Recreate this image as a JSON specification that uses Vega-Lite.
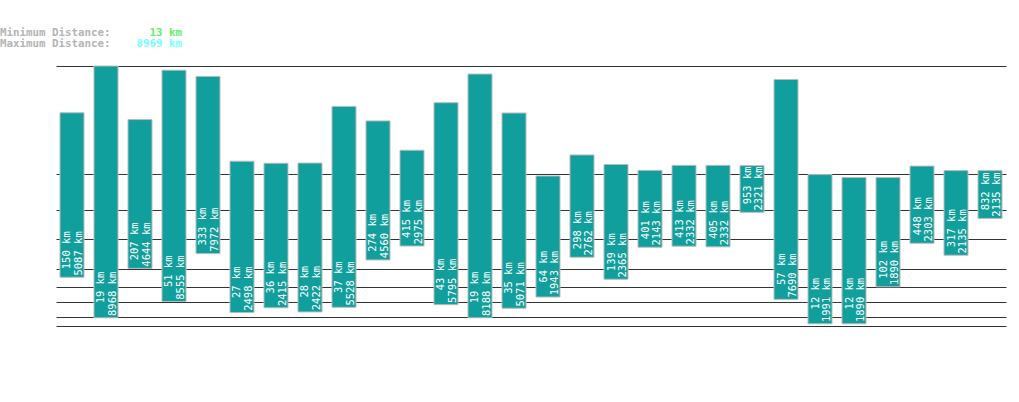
{
  "$schema": "https://vega.github.io/schema/vega-lite/v6.json",
  "width": 950,
  "height": 260,
  "autosize": {"type": "none"},
  "padding": {"left": 56, "top": 66, "right": 13, "bottom": 76},
  "background": "white",
  "config": {"view": {"stroke": null}},
  "datasets": {
    "bars": [
      {"id": 1, "min": 150, "max": 5087},
      {"id": 2, "min": 19, "max": 8968},
      {"id": 3, "min": 207, "max": 4644},
      {"id": 4, "min": 51, "max": 8555},
      {"id": 5, "min": 333, "max": 7972},
      {"id": 6, "min": 27, "max": 2498},
      {"id": 7, "min": 36, "max": 2415},
      {"id": 8, "min": 28, "max": 2422},
      {"id": 9, "min": 37, "max": 5528},
      {"id": 10, "min": 274, "max": 4560},
      {"id": 11, "min": 415, "max": 2975},
      {"id": 12, "min": 43, "max": 5795},
      {"id": 13, "min": 19, "max": 8188},
      {"id": 14, "min": 35, "max": 5071},
      {"id": 15, "min": 64, "max": 1943},
      {"id": 16, "min": 298, "max": 2762},
      {"id": 17, "min": 139, "max": 2365},
      {"id": 18, "min": 401, "max": 2143},
      {"id": 19, "min": 413, "max": 2332},
      {"id": 20, "min": 405, "max": 2332},
      {"id": 21, "min": 953, "max": 2321},
      {"id": 22, "min": 57, "max": 7690},
      {"id": 23, "min": 12, "max": 1991},
      {"id": 24, "min": 12, "max": 1890},
      {"id": 25, "min": 102, "max": 1890},
      {"id": 26, "min": 448, "max": 2303},
      {"id": 27, "min": 317, "max": 2135},
      {"id": 28, "min": 832, "max": 2135}
    ],
    "header": [
      {"row": "Minimum", "part": "label", "key": "label", "text": "Minimum Distance:"},
      {"row": "Minimum", "part": "value", "key": "min", "text": "13 km"},
      {"row": "Maximum", "part": "label", "key": "label", "text": "Maximum Distance:"},
      {"row": "Maximum", "part": "value", "key": "max", "text": "8969 km"}
    ]
  },
  "layer": [
    {
      "data": {"name": "bars"},
      "transform": [
        {"calculate": "datum.min + ' km'", "as": "minLabel"},
        {"calculate": "datum.max + ' km'", "as": "maxLabel"}
      ],
      "encoding": {
        "x": {
          "field": "id",
          "type": "ordinal",
          "axis": null,
          "scale": {"paddingInner": 0.2941, "paddingOuter": 0.1176}
        },
        "y": {
          "field": "max",
          "type": "quantitative",
          "scale": {"type": "pow", "exponent": 0.3, "domain": [10, 8969], "nice": false, "zero": false},
          "axis": {
            "values": [10, 20, 50, 100, 200, 500, 1000, 2000, 8969],
            "grid": true,
            "gridColor": "#333333",
            "gridOpacity": 1,
            "gridWidth": 1,
            "labels": false,
            "ticks": false,
            "domain": false,
            "title": null
          }
        }
      },
      "layer": [
        {
          "mark": {"type": "bar", "fill": "#119f9d", "stroke": "#bbbbbb", "strokeWidth": 1},
          "encoding": {"y2": {"field": "min"}}
        },
        {
          "mark": {
            "type": "text",
            "angle": 270,
            "align": "right",
            "baseline": "middle",
            "dx": 46,
            "dy": -4.5,
            "font": "DejaVu Sans Mono",
            "fontSize": 10.5,
            "color": "white"
          },
          "encoding": {
            "y": {"field": "min", "type": "quantitative"},
            "text": {"field": "minLabel"}
          }
        },
        {
          "mark": {
            "type": "text",
            "angle": 270,
            "align": "right",
            "baseline": "middle",
            "dx": 46,
            "dy": 7,
            "font": "DejaVu Sans Mono",
            "fontSize": 10.5,
            "color": "white"
          },
          "encoding": {
            "y": {"field": "min", "type": "quantitative"},
            "text": {"field": "maxLabel"}
          }
        }
      ]
    },
    {
      "data": {"name": "header"},
      "encoding": {
        "x": {
          "field": "part",
          "type": "nominal",
          "axis": null,
          "scale": {"type": "point", "domain": ["label", "value"], "range": [-56, 126], "padding": 0}
        },
        "y": {
          "field": "row",
          "type": "nominal",
          "axis": null,
          "scale": {"type": "point", "domain": ["Minimum", "Maximum"], "range": [-30.5, -19.5], "padding": 0}
        },
        "color": {
          "field": "key",
          "type": "nominal",
          "legend": null,
          "scale": {"domain": ["label", "min", "max"], "range": ["#b4b4b4", "#66ee66", "#77ffff"]}
        },
        "text": {"field": "text"}
      },
      "layer": [
        {
          "transform": [{"filter": "datum.part === 'label'"}],
          "mark": {"type": "text", "align": "left", "baseline": "alphabetic", "font": "DejaVu Sans Mono", "fontSize": 10.8, "fontWeight": "bold"}
        },
        {
          "transform": [{"filter": "datum.part === 'value'"}],
          "mark": {"type": "text", "align": "right", "baseline": "alphabetic", "font": "DejaVu Sans Mono", "fontSize": 10.8, "fontWeight": "bold"}
        }
      ]
    }
  ],
  "resolve": {"scale": {"x": "independent", "y": "independent", "color": "independent"}}
}
